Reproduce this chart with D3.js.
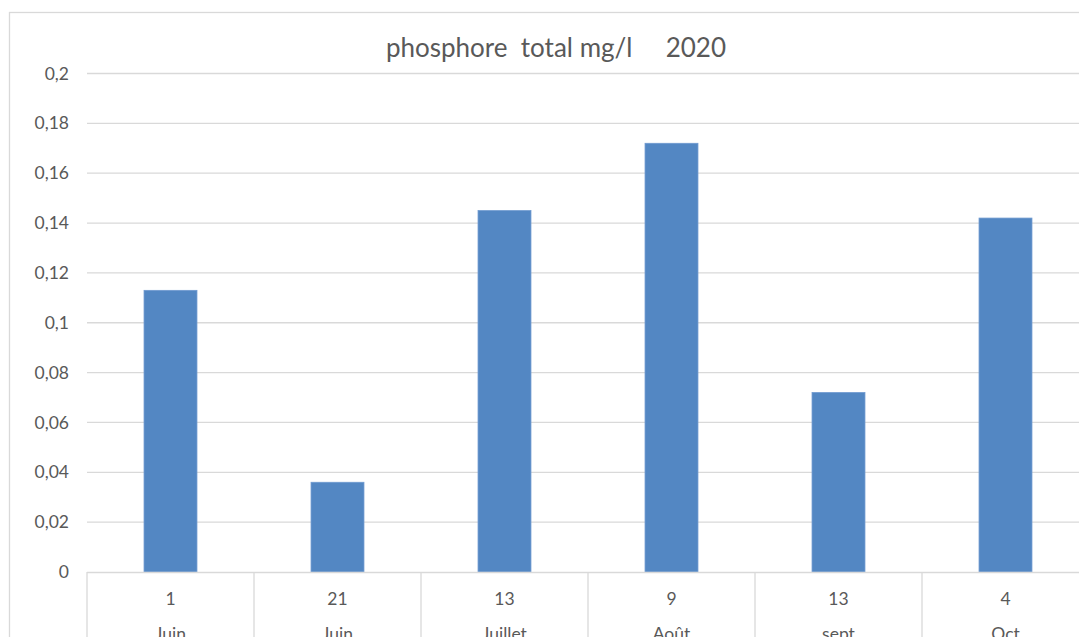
<!DOCTYPE html>
<html>
<head>
<meta charset="utf-8">
<script src="https://cdn.jsdelivr.net/npm/d3@7"></script>
<style>
  body { margin: 0; background: #fff; overflow: hidden; }
  text { font-family: Lato, "Open Sans", sans-serif; fill: #595959; }
</style>
</head>
<body>
<div id="chart"></div>
<script>
const days = ["1", "21", "13", "9", "13", "4"];
const months = ["Juin", "Juin", "Juillet", "Août", "sept", "Oct"];
const values = [0.113, 0.036, 0.145, 0.172, 0.072, 0.142];
const yTicks = [0, 0.02, 0.04, 0.06, 0.08, 0.1, 0.12, 0.14, 0.16, 0.18, 0.2];

const W = 1079, H = 637;
const plotLeft = 87, plotRight = 1089, plotTop = 73.5, plotBottom = 572;

const svg = d3.select("#chart")
  .append("svg")
  .attr("width", W)
  .attr("height", H);

// chart border (runs off the right and bottom edges)
svg.append("rect")
  .attr("x", 9.5)
  .attr("y", 12.5)
  .attr("width", 1200)
  .attr("height", 800)
  .attr("fill", "none")
  .attr("stroke", "#d9d9d9")
  .attr("stroke-width", 1.3);

const keys = days.map((d, i) => i);

const x = d3.scaleBand()
  .domain(keys)
  .range([plotLeft, plotRight])
  .paddingInner(0)
  .paddingOuter(0);

const y = d3.scaleLinear()
  .domain([0, 0.2])
  .range([plotBottom, plotTop]);

// gridlines
svg.append("g")
  .selectAll("line")
  .data(yTicks.slice(1))
  .join("line")
  .attr("x1", plotLeft)
  .attr("x2", W + 20)
  .attr("y1", d => y(d))
  .attr("y2", d => y(d))
  .attr("stroke", "#d9d9d9")
  .attr("stroke-width", 1.3);

// y labels
svg.append("g")
  .selectAll("text")
  .data(yTicks)
  .join("text")
  .attr("x", 69)
  .attr("y", d => y(d))
  .attr("dy", "0.35em")
  .attr("text-anchor", "end")
  .style("font-size", "17.5px")
  .text(d => d3.format(".2~f")(d).replace(".", ","));

// bars
const barW = x.bandwidth() * 0.317;
svg.append("g")
  .selectAll("rect")
  .data(values)
  .join("rect")
  .attr("x", (d, i) => x(i) + x.bandwidth() / 2 - barW / 2)
  .attr("y", d => y(d))
  .attr("width", barW)
  .attr("height", d => y(0) - y(d))
  .attr("fill", "#5387c3")
  .attr("stroke", "#6f9ad0")
  .attr("stroke-width", 0.8);

// category axis
const axis = svg.append("g").attr("stroke", "#d9d9d9").attr("stroke-width", 1.3);
axis.append("line")
  .attr("x1", plotLeft).attr("x2", W + 20)
  .attr("y1", plotBottom + 0.5).attr("y2", plotBottom + 0.5);
axis.selectAll(".sep")
  .data(keys.concat([keys.length]))
  .join("line")
  .attr("class", "sep")
  .attr("x1", d => d < keys.length ? x(d) : plotRight)
  .attr("x2", d => d < keys.length ? x(d) : plotRight)
  .attr("y1", plotBottom)
  .attr("y2", H + 10);

svg.append("g")
  .selectAll("text")
  .data(days)
  .join("text")
  .attr("x", (d, i) => x(i) + x.bandwidth() / 2)
  .attr("y", 604.5)
  .attr("text-anchor", "middle")
  .style("font-size", "17.5px")
  .text(d => d);

svg.append("g")
  .selectAll("text")
  .data(months)
  .join("text")
  .attr("x", (d, i) => x(i) + x.bandwidth() / 2)
  .attr("y", 640)
  .attr("text-anchor", "middle")
  .style("font-size", "17.5px")
  .text(d => d);

// title
svg.append("text")
  .attr("x", 556)
  .attr("y", 57)
  .attr("text-anchor", "middle")
  .style("font-size", "26px")
  .style("white-space", "pre")
  .attr("xml:space", "preserve")
  .text("phosphore  total mg/l     2020");
</script>
</body>
</html>
